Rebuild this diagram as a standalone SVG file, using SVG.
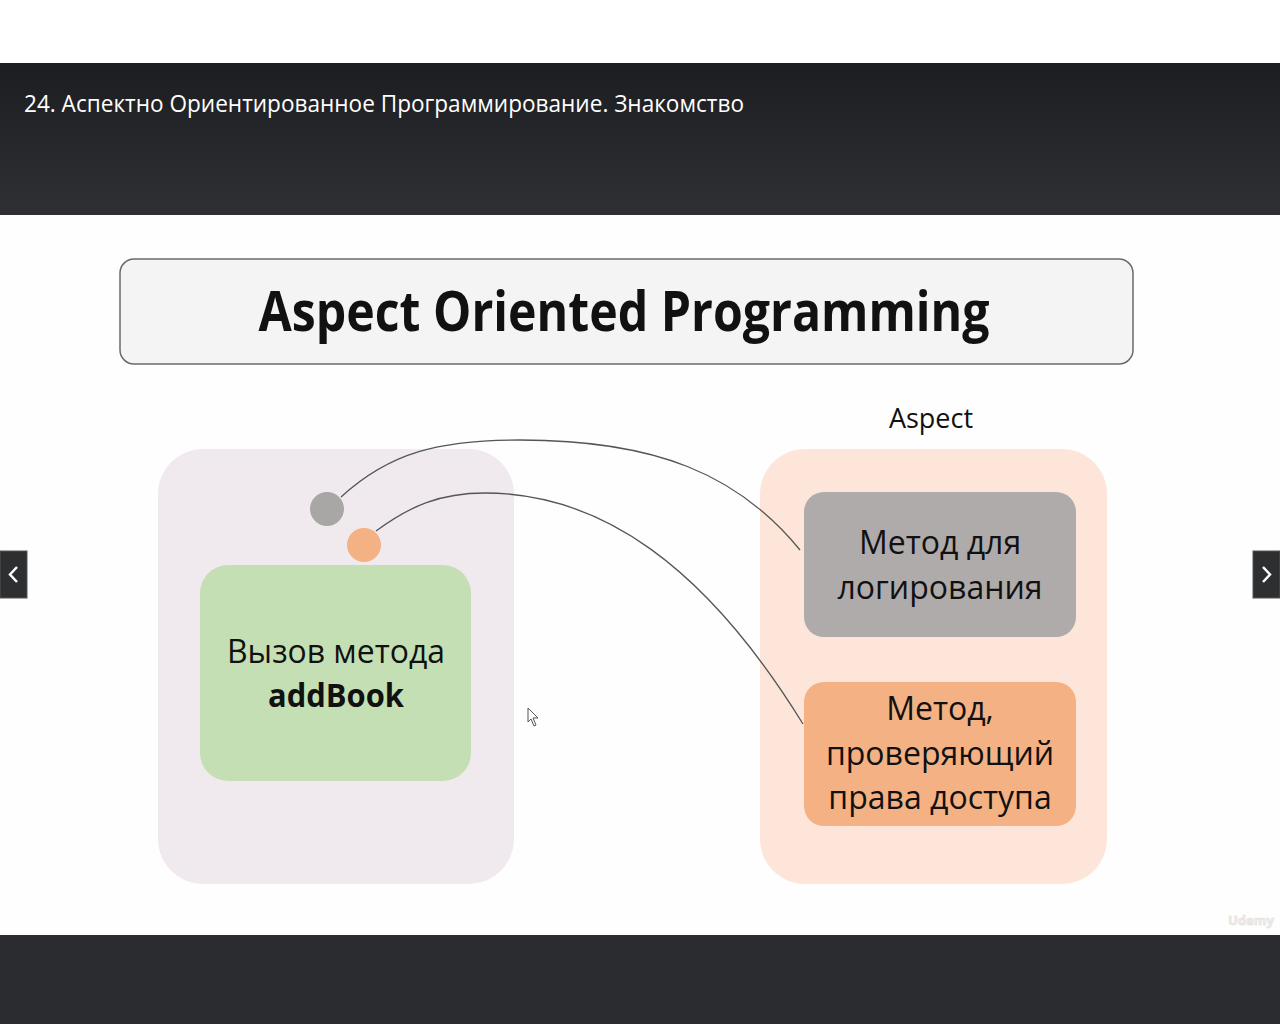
<svg xmlns="http://www.w3.org/2000/svg" width="1280" height="1024" viewBox="0 0 1280 1024">
<defs>
<linearGradient id="hdr" x1="0" y1="0" x2="0" y2="1">
<stop offset="0" stop-color="#1b1d21"/>
<stop offset="1" stop-color="#2e3034"/>
</linearGradient>
<style>
.t{font-family:"Open Sans","Noto Sans","DejaVu Sans",sans-serif;fill:#111;text-anchor:middle}
.node{font-size:32px}
.conn{fill:none;stroke:#555;stroke-width:1.3}
</style>
</defs>
<rect x="0" y="0" width="1280" height="63" fill="#ffffff"/>
<rect x="0" y="63" width="1280" height="152" fill="url(#hdr)"/>
<text x="24" y="112" font-family="Open Sans, Noto Sans, sans-serif" font-size="23" font-weight="500" fill="#ffffff" textLength="720" lengthAdjust="spacingAndGlyphs">24. Аспектно Ориентированное Программирование. Знакомство</text>
<rect x="0" y="215" width="1280" height="720" fill="#fefefe"/>
<rect x="0" y="935" width="1280" height="89" fill="#2b2c30"/>

<g id="title">
<rect x="120" y="259" width="1013" height="105" rx="14" fill="#f4f4f4" stroke="#6a6a6a" stroke-width="1.5"/>
<text class="t" x="624" y="331" font-size="56" font-weight="700" textLength="731" lengthAdjust="spacingAndGlyphs">Aspect Oriented Programming</text>
</g>

<g id="left-container">
<rect x="158" y="449" width="356" height="435" rx="45" fill="#f0eaee"/>
</g>
<g id="addbook">
<rect x="200" y="565" width="271" height="216" rx="28" fill="#c5dfb4"/>
<text class="t node" x="336" y="663" textLength="218" lengthAdjust="spacingAndGlyphs">Вызов метода</text>
<text class="t node" x="336" y="707" font-weight="700" textLength="136" lengthAdjust="spacingAndGlyphs">addBook</text>
</g>
<g id="dot-log"><circle cx="327" cy="509" r="17" fill="#a9a6a6"/></g>
<g id="dot-access"><circle cx="364" cy="545" r="17" fill="#f4b183"/></g>

<g id="aspect">
<text class="t" x="931" y="428" font-size="27">Aspect</text>
<rect x="760" y="449" width="347" height="435" rx="45" fill="#fde6d9"/>
</g>
<g id="log-method">
<rect x="804" y="492" width="272" height="145" rx="20" fill="#afabab"/>
<text class="t node" x="940" y="554">Метод для</text>
<text class="t node" x="940" y="599">логирования</text>
</g>
<g id="access-method">
<rect x="804" y="682" width="272" height="144" rx="20" fill="#f4b183"/>
<text class="t node" x="940" y="720">Метод,</text>
<text class="t node" x="940" y="765">проверяющий</text>
<text class="t node" x="940" y="809">права доступа</text>
</g>

<g id="connectors">
<path class="conn" d="M341,497 C390,452 440,440 520,440 C655,440 738,474 800,550"/>
<path class="conn" d="M376,531 C410,506 440,493 485,493 C600,493 705,565 803,724"/>
</g>

<g id="nav">
<rect x="0" y="551" width="27" height="47" fill="#2d2f31" stroke="#555" stroke-width="1"/>
<path d="M17,567 L10,574.5 L17,582" fill="none" stroke="#fff" stroke-width="2.5"/>
<rect x="1253" y="551" width="27" height="47" fill="#2d2f31" stroke="#555" stroke-width="1"/>
<path d="M1263,567 L1270,574.5 L1263,582" fill="none" stroke="#fff" stroke-width="2.5"/>
</g>
<path d="M528,708 L528,722 L531,719 L534,726 L536,725 L533,718 L538,718 Z" fill="#fff" stroke="#555" stroke-width="1"/>
<text x="1228" y="925" font-family="Open Sans, sans-serif" font-size="13" font-weight="700" fill="#f0f0f0" stroke="#dcdcdc" stroke-width="0.6">Udemy</text>
</svg>
